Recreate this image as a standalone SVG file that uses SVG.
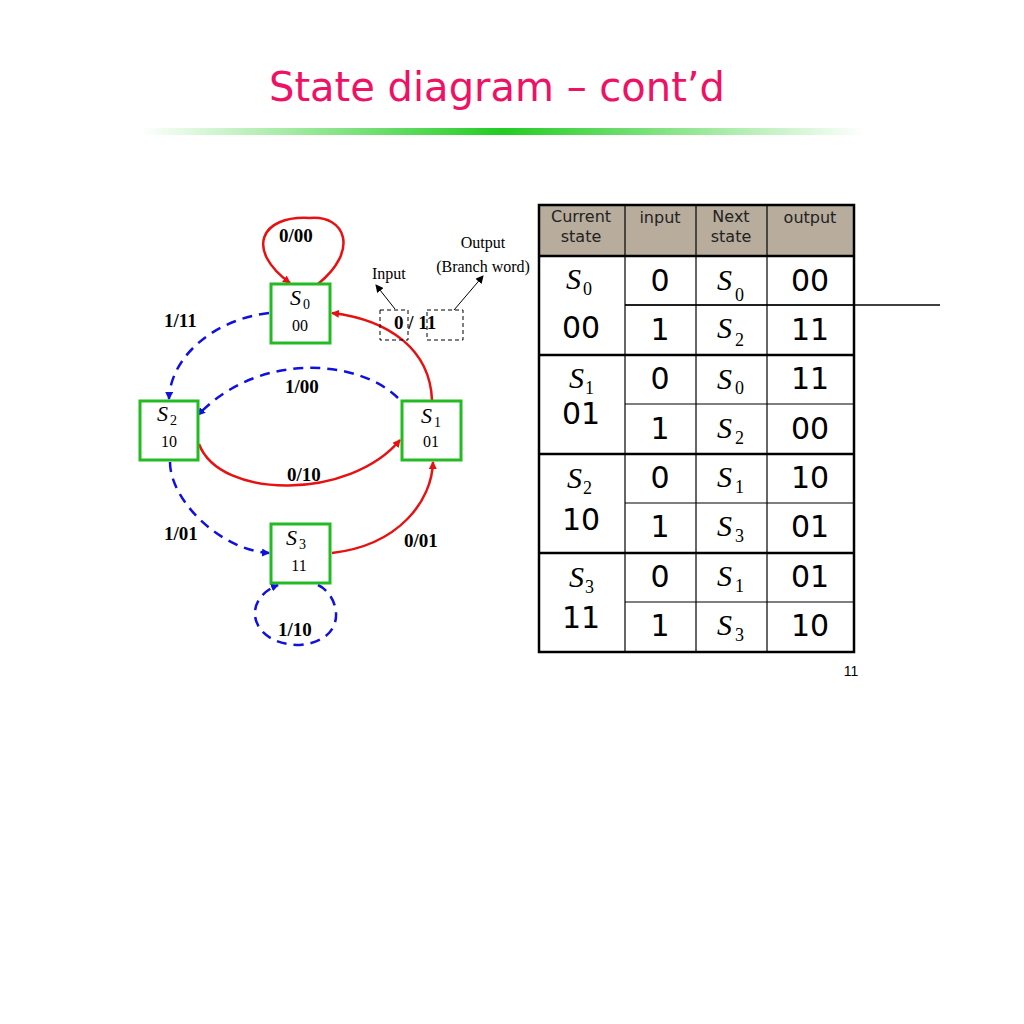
<svg xmlns="http://www.w3.org/2000/svg" width="1024" height="1024" viewBox="0 0 1024 1024">
<defs>
<linearGradient id="bar" x1="0" x2="1"><stop offset="0" stop-color="#fff"/><stop offset="0.5" stop-color="#22cc22"/><stop offset="1" stop-color="#fff"/></linearGradient>
<marker id="ar" markerWidth="8" markerHeight="8" refX="7" refY="4" orient="auto" markerUnits="userSpaceOnUse"><path d="M0,0L8,4L0,8z" fill="#e81010"/></marker>
<marker id="ab" markerWidth="8" markerHeight="8" refX="7" refY="4" orient="auto" markerUnits="userSpaceOnUse"><path d="M0,0L8,4L0,8z" fill="#1010e0"/></marker>
<marker id="ak" markerWidth="8" markerHeight="8" refX="7" refY="4" orient="auto" markerUnits="userSpaceOnUse"><path d="M0,0L8,4L0,8z" fill="#000"/></marker>
</defs>
<style>
.node rect{fill:#fff;stroke:#22bb22;stroke-width:3}
.s{font-family:"Liberation Serif",serif;font-style:italic;font-size:22px}
.sub{font-family:"Liberation Serif",serif;font-size:14px}
.cd{font-family:"Liberation Serif",serif;font-size:16px}
.lb{font-family:"Liberation Serif",serif;font-weight:bold;font-size:19px}
.red{fill:none;stroke:#e81010;stroke-width:2.5;marker-end:url(#ar)}
.blue{fill:none;stroke:#1010e0;stroke-width:2.5;stroke-dasharray:10,7;marker-end:url(#ab)}
.t{font-family:Tahoma,"DejaVu Sans",sans-serif;font-size:30px;text-anchor:middle}
.h{font-family:Tahoma,"DejaVu Sans",sans-serif;font-size:16px;text-anchor:middle;fill:#222}
.ts{font-family:"Liberation Serif",serif;font-style:italic;font-size:30px}
.tsub{font-family:"Liberation Serif",serif;font-size:18px}
</style>
<rect width="1024" height="1024" fill="#fff"/>
<text x="497" y="101" font-family="Tahoma,'DejaVu Sans',sans-serif" font-size="40" fill="#ee1166" text-anchor="middle">State diagram – cont’d</text>
<rect x="140" y="128" width="725" height="7" fill="url(#bar)"/>

<g id="connectors">
<path class="red" d="M318,284 C360,250 345,215 310,218 C260,215 245,250 290,283"/>
<path class="blue" d="M269,313 C210,320 170,360 169,399"/>
<path class="red" d="M432,400 C430,350 390,320 332,313"/>
<path class="blue" d="M398,398 C360,360 260,350 198,415"/>
<path class="red" d="M199,444 C220,500 350,500 400,440"/>
<path class="blue" d="M170,462 C170,500 220,550 269,553"/>
<path class="red" d="M332,553 C400,545 432,500 433,462"/>
<path class="blue" d="M318,585 C340,595 350,640 300,645 C250,645 240,600 278,585"/>
<path d="M395,309 L376,285" stroke="#000" fill="none" stroke-width="1" marker-end="url(#ak)"/>
<path d="M454,310 L483,276" stroke="#000" fill="none" stroke-width="1" marker-end="url(#ak)"/>
<rect x="380" y="310" width="28" height="30" fill="none" stroke="#000" stroke-dasharray="4,3"/>
<rect x="427" y="310" width="36" height="30" fill="none" stroke="#000" stroke-dasharray="4,3"/>
</g>

<g class="lb">
<text x="279" y="242">0/00</text>
<text x="164" y="327">1/11</text>
<text x="285" y="393">1/00</text>
<text x="287" y="481">0/10</text>
<text x="164" y="540">1/01</text>
<text x="404" y="547">0/01</text>
<text x="278" y="636">1/10</text>
<text x="394" y="329">0 / 11</text>
</g>
<text class="cd" x="372" y="279" font-size="15">Input</text>
<text class="cd" x="483" y="248" font-size="15" text-anchor="middle">Output</text>
<text class="cd" x="483" y="272" font-size="15" text-anchor="middle">(Branch word)</text>

<g id="S0" class="node"><rect x="271" y="284" width="59" height="59"/><text class="s" x="290" y="305">S</text><text class="sub" x="303" y="309">0</text><text class="cd" x="300" y="331" text-anchor="middle">00</text></g>
<g id="S2" class="node"><rect x="140" y="401" width="58" height="59"/><text class="s" x="157" y="421">S</text><text class="sub" x="170" y="425">2</text><text class="cd" x="169" y="447" text-anchor="middle">10</text></g>
<g id="S1" class="node"><rect x="402" y="401" width="59" height="59"/><text class="s" x="421" y="423">S</text><text class="sub" x="434" y="427">1</text><text class="cd" x="431" y="447" text-anchor="middle">01</text></g>
<g id="S3" class="node"><rect x="271" y="524" width="59" height="59"/><text class="s" x="286" y="545">S</text><text class="sub" x="299" y="549">3</text><text class="cd" x="299" y="571" text-anchor="middle">11</text></g>

<g id="table">
<rect x="539" y="205" width="315" height="51" fill="#b8ac9c"/>
<g stroke="#000" stroke-width="1.5" fill="none">
<line x1="539" y1="305" x2="854" y2="305" transform="translate(86,0) scale(1)" x2b="0"/>
</g>
<g stroke="#000" stroke-width="1.2">
<line x1="625" y1="305" x2="854" y2="305"/><line x1="625" y1="404" x2="854" y2="404"/><line x1="625" y1="503" x2="854" y2="503"/><line x1="625" y1="602" x2="854" y2="602"/>
<line x1="625" y1="205" x2="625" y2="652"/><line x1="696" y1="205" x2="696" y2="652"/><line x1="767" y1="205" x2="767" y2="652"/>
</g>
<g stroke="#000" stroke-width="2.5" fill="none">
<rect x="539" y="205" width="315" height="447"/>
<line x1="539" y1="256" x2="854" y2="256"/><line x1="539" y1="355" x2="854" y2="355"/><line x1="539" y1="454" x2="854" y2="454"/><line x1="539" y1="553" x2="854" y2="553"/>
</g>
<text class="h" x="581" y="222">Current</text><text class="h" x="581" y="242">state</text>
<text class="h" x="660" y="223">input</text>
<text class="h" x="731" y="222">Next</text><text class="h" x="731" y="242">state</text>
<text class="h" x="810" y="223">output</text>
<text class="ts" x="566" y="289">S</text><text class="tsub" x="583" y="295">0</text><text class="t" x="581" y="338">00</text>
<text class="ts" x="569" y="388">S</text><text class="tsub" x="585" y="394">1</text><text class="t" x="581" y="424">01</text>
<text class="ts" x="567" y="488">S</text><text class="tsub" x="583" y="494">2</text><text class="t" x="581" y="530">10</text>
<text class="ts" x="569" y="587">S</text><text class="tsub" x="585" y="593">3</text><text class="t" x="581" y="628">11</text>
<g class="t"><text x="660" y="291">0</text><text x="660" y="340">1</text><text x="660" y="389">0</text><text x="660" y="439">1</text><text x="660" y="488">0</text><text x="660" y="537">1</text><text x="660" y="587">0</text><text x="660" y="636">1</text>
<text x="810" y="291">00</text><text x="810" y="340">11</text><text x="810" y="389">11</text><text x="810" y="439">00</text><text x="810" y="488">10</text><text x="810" y="537">01</text><text x="810" y="587">01</text><text x="810" y="636">10</text></g>
<text class="ts" x="717" y="290">S</text><text class="tsub" x="735" y="301">0</text>
<text class="ts" x="717" y="338">S</text><text class="tsub" x="735" y="346">2</text>
<text class="ts" x="717" y="389">S</text><text class="tsub" x="735" y="394">0</text>
<text class="ts" x="717" y="438">S</text><text class="tsub" x="735" y="444">2</text>
<text class="ts" x="717" y="487">S</text><text class="tsub" x="735" y="493">1</text>
<text class="ts" x="717" y="536">S</text><text class="tsub" x="735" y="542">3</text>
<text class="ts" x="717" y="586">S</text><text class="tsub" x="735" y="592">1</text>
<text class="ts" x="717" y="635">S</text><text class="tsub" x="735" y="641">3</text>
</g>
<text x="851" y="676" font-family="'Liberation Sans',sans-serif" font-size="14" text-anchor="middle">11</text>
</svg>
